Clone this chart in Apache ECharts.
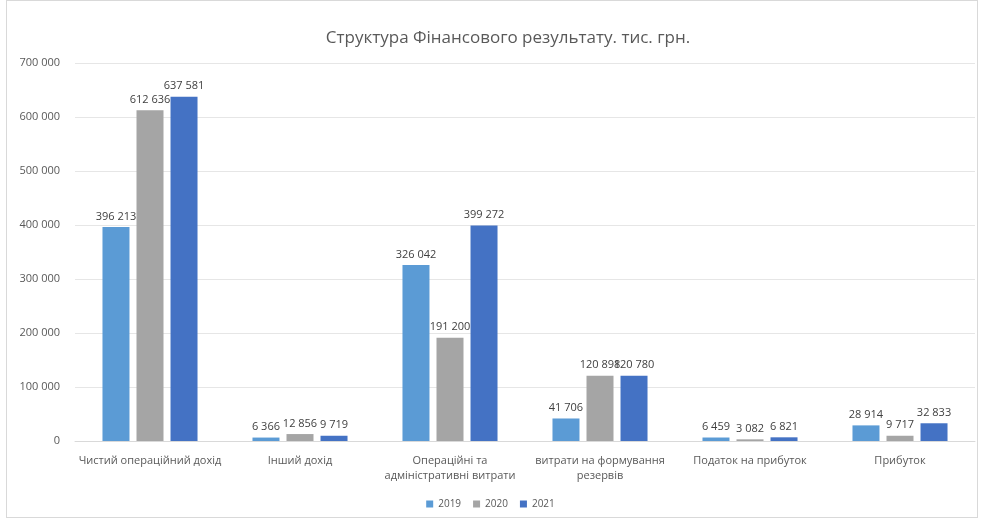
<!DOCTYPE html>
<html><head><meta charset="utf-8">
<script src="https://cdn.jsdelivr.net/npm/echarts@6/dist/echarts.min.js"></script>
<style>html,body{margin:0;padding:0;background:#fff}#c{width:981px;height:518px;}
#frame{position:absolute;left:6px;top:0;width:970px;height:516px;border:1px solid #d9d9d9;pointer-events:none;}</style>
</head><body><div id="c"></div><div id="frame"></div>
<script>
const categories = ["Чистий операційний дохід","Інший дохід","Операційні та\nадміністративні витрати","витрати на формування\nрезервів","Податок на прибуток","Прибуток"];
const seriesNames = ["2019","2020","2021"];
const v2019 = [396213, 6366, 326042, 41706, 6459, 28914];
const v2020 = [612636, 12856, 191200, 120898, 3082, 9717];
const v2021 = [637581, 9719, 399272, 120780, 6821, 32833];
const colors = ["#5B9BD5","#A5A5A5","#4472C4"];
const fmt = v => String(v).replace(/\B(?=(\d{3})+(?!\d))/g, ' ');
const chart = echarts.init(document.getElementById('c'));
const data = [v2019, v2020, v2021];
chart.setOption({
  animation:false,
  title:{text:'Структура Фінансового результату. тис. грн.',left:503,textAlign:'center',top:25,
    textStyle:{fontFamily:'Open Sans',fontSize:17,fontWeight:'normal',color:'#595959'}},
  grid:{left:75,right:6,top:63,bottom:77,containLabel:false},
  legend:{bottom:4,left:'center',itemWidth:7,itemHeight:7,itemGap:12,icon:'rect',
    textStyle:{fontFamily:'Open Sans',fontSize:10,color:'#595959'},data:seriesNames},
  xAxis:{type:'category',data:categories,
    axisLine:{lineStyle:{color:'#d9d9d9'}},axisTick:{show:false},
    axisLabel:{interval:0,fontFamily:'Open Sans',fontSize:11,color:'#595959',lineHeight:15,margin:12}},
  yAxis:{type:'value',min:0,max:700000,interval:100000,
    axisLine:{show:false},axisTick:{show:false},
    splitLine:{lineStyle:{color:'#e6e6e6'}},
    axisLabel:{formatter:fmt,fontFamily:'Open Sans',fontSize:11,color:'#595959',margin:15}},
  series: seriesNames.map((n,i)=>({
    name:n,type:'bar',data:data[i],barWidth:27,barGap:'26%',
    itemStyle:{color:colors[i]},
    label:{show:true,position:'top',formatter:p=>fmt(p.value),fontFamily:'Open Sans',fontSize:11,color:'#404040',distance:5}
  }))
});
</script></body></html>
